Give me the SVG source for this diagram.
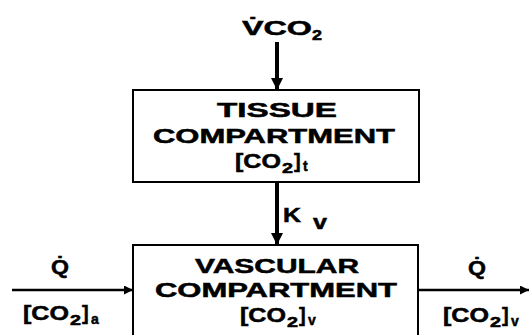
<svg xmlns="http://www.w3.org/2000/svg" width="529" height="335" viewBox="0 0 529 335">
<style>
text{font-family:"Liberation Sans",Arial,sans-serif;font-weight:bold;fill:#000;stroke:#000;stroke-width:0.5}
.t{font-size:20px}
.s{font-size:14px}
.box{fill:#fff;stroke:#000;stroke-width:2}
.thick{stroke:#000;stroke-width:4;fill:none}
.thin{stroke:#000;stroke-width:2.5;fill:none}
</style>
<defs>
<marker id="ah" viewBox="0 0 10 10" refX="10" refY="5" markerWidth="3" markerHeight="3" orient="auto" markerUnits="strokeWidth">
<path d="M0,0 L10,5 L0,10 z" fill="#000"/>
</marker>
<marker id="ah2" viewBox="0 0 10 10" refX="10" refY="5" markerWidth="4" markerHeight="3.6" orient="auto" markerUnits="strokeWidth">
<path d="M0,0 L10,5 L0,10 z" fill="#000"/>
</marker>
</defs>
<rect width="529" height="335" fill="#fff"/>
<g id="connectors">
<line class="thick" x1="277" y1="42" x2="277" y2="90" marker-end="url(#ah)"/>
<line class="thick" x1="277" y1="182" x2="277" y2="245" marker-end="url(#ah)"/>
<line class="thin" x1="12" y1="290" x2="133" y2="290" marker-end="url(#ah2)"/>
<line class="thin" x1="418" y1="290" x2="529" y2="290" marker-end="url(#ah2)"/>
</g>
<g id="vco2">
<text class="t" x="242" y="35" textLength="70" lengthAdjust="spacingAndGlyphs">V̇CO</text>
<text class="s" x="312" y="40" textLength="10" lengthAdjust="spacingAndGlyphs">2</text>
</g>
<g id="tissue">
<rect class="box" x="133" y="90" width="286" height="92"/>
<text class="t" x="277" y="117" text-anchor="middle" textLength="120" lengthAdjust="spacingAndGlyphs">TISSUE</text>
<text class="t" x="274" y="143" text-anchor="middle" textLength="242" lengthAdjust="spacingAndGlyphs">COMPARTMENT</text>
<text class="t" x="235" y="168" textLength="46" lengthAdjust="spacingAndGlyphs">[CO</text>
<text class="s" x="282" y="173" textLength="11" lengthAdjust="spacingAndGlyphs">2</text>
<text class="t" x="294" y="168">]</text>
<text class="s" x="303" y="171">t</text>
</g>
<g id="kv">
<text class="t" x="283" y="222" textLength="18" lengthAdjust="spacingAndGlyphs">K</text>
<text class="t" x="313" y="229" textLength="14" lengthAdjust="spacingAndGlyphs">v</text>
</g>
<g id="vascular">
<rect class="box" x="133" y="245" width="285" height="100"/>
<text class="t" x="277" y="273" text-anchor="middle" textLength="164" lengthAdjust="spacingAndGlyphs">VASCULAR</text>
<text class="t" x="276" y="297" text-anchor="middle" textLength="242" lengthAdjust="spacingAndGlyphs">COMPARTMENT</text>
<text class="t" x="240" y="322" textLength="46" lengthAdjust="spacingAndGlyphs">[CO</text>
<text class="s" x="287" y="327" textLength="11" lengthAdjust="spacingAndGlyphs">2</text>
<text class="t" x="299" y="322">]</text>
<text class="s" x="308" y="325">v</text>
</g>
<g id="inflow">
<text class="t" x="60" y="274" text-anchor="middle" textLength="18" lengthAdjust="spacingAndGlyphs">Q̇</text>
<text class="t" x="23" y="320" textLength="46" lengthAdjust="spacingAndGlyphs">[CO</text>
<text class="s" x="70" y="325" textLength="11" lengthAdjust="spacingAndGlyphs">2</text>
<text class="t" x="82" y="320">]</text>
<text class="s" x="91" y="324">a</text>
</g>
<g id="outflow">
<text class="t" x="477" y="275" text-anchor="middle" textLength="18" lengthAdjust="spacingAndGlyphs">Q̇</text>
<text class="t" x="443" y="322" textLength="46" lengthAdjust="spacingAndGlyphs">[CO</text>
<text class="s" x="490" y="327" textLength="11" lengthAdjust="spacingAndGlyphs">2</text>
<text class="t" x="502" y="322">]</text>
<text class="s" x="511" y="326">v</text>
</g>
</svg>
